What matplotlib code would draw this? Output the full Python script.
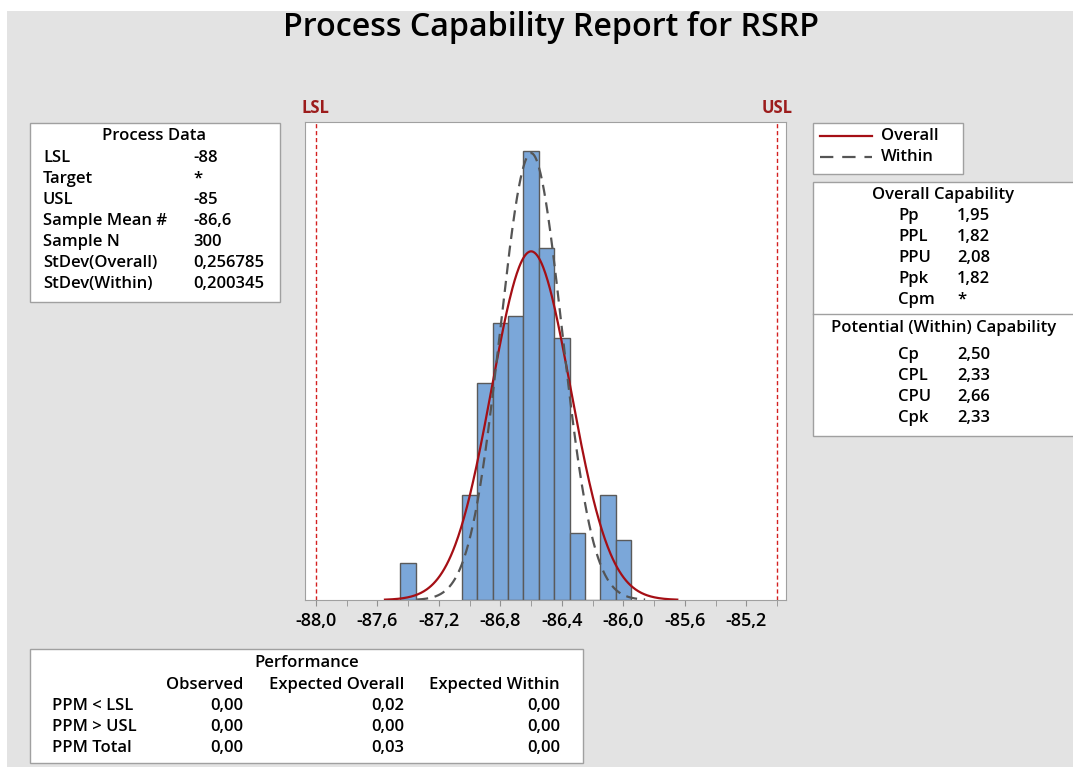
import matplotlib

matplotlib.use("Agg")
import matplotlib.pyplot as plt
import numpy as np
from matplotlib.lines import Line2D
from matplotlib.patches import Rectangle

plt.rcParams["font.family"] = ["Open Sans", "DejaVu Sans"]

W, H = 1073, 767

# histogram
bin_centers = [-87.4, -87.0, -86.9, -86.8, -86.7, -86.6, -86.5, -86.4, -86.3, -86.2, -86.1, -86.0]
bin_counts = [5, 14, 29, 37, 38, 60, 47, 35, 9, 0, 14, 8]
bin_width = 0.1

lsl, usl = -88.0, -85.0
sample_mean = -86.6
sample_n = 300
stdev_overall = 0.256785
stdev_within = 0.200345

process_labels = ["LSL", "Target", "USL", "Sample Mean #", "Sample N",
                  "StDev(Overall)", "StDev(Within)"]
process_values = ["-88", "*", "-85", "-86,6", "300", "0,256785", "0,200345"]
overall_labels = ["Pp", "PPL", "PPU", "Ppk", "Cpm"]
overall_values = ["1,95", "1,82", "2,08", "1,82", "*"]
within_labels = ["Cp", "CPL", "CPU", "Cpk"]
within_values = ["2,50", "2,33", "2,66", "2,33"]
perf_columns = ["Observed", "Expected Overall", "Expected Within"]
perf_rows = ["PPM < LSL", "PPM > USL", "PPM Total"]
perf_values = [["0,00", "0,02", "0,00"],
               ["0,00", "0,00", "0,00"],
               ["0,00", "0,03", "0,00"]]
major_ticks = [-88.0, -87.6, -87.2, -86.8, -86.4, -86.0, -85.6, -85.2]
minor_ticks = [-87.8, -87.4, -87.0, -86.6, -86.2, -85.8, -85.4, -85.0]

BG = "#e3e3e3"
BORDER = "#a0a0a0"
TXT = 12
WEIGHT = "semibold"


def fx(x):
    return x / W


def fy(y):
    return 1 - y / H


def text(x, y, s, **kw):
    kw.setdefault("fontsize", TXT)
    kw.setdefault("va", "center")
    kw.setdefault("color", "black")
    kw.setdefault("fontweight", WEIGHT)
    fig.text(fx(x), fy(y), s, **kw)


def box(x0, y0, x1, y1):
    fig.add_artist(Rectangle((fx(x0), fy(y1)), fx(x1) - fx(x0), fy(y0) - fy(y1),
                             transform=fig.transFigure, facecolor="white",
                             edgecolor=BORDER, linewidth=1.0, zorder=1))


fig = plt.figure(figsize=(W / 100, H / 100), dpi=100, facecolor="white")
fig.add_artist(Rectangle((fx(7), 0), 1, fy(11), transform=fig.transFigure,
                         facecolor=BG, edgecolor="none", zorder=0))

ax = fig.add_axes([fx(305), fy(600), fx(786) - fx(305), fy(122) - fy(600)])
ax.set_facecolor("white")
ax.bar(bin_centers, bin_counts, width=bin_width, color="#7ba7d9",
       edgecolor="#5a5a5a", linewidth=1.0, zorder=2)

scale = sample_n * bin_width
xs = np.linspace(sample_mean - 3.7 * stdev_overall, sample_mean + 3.7 * stdev_overall, 400)
ax.plot(xs, scale * np.exp(-0.5 * ((xs - sample_mean) / stdev_overall) ** 2)
        / (stdev_overall * np.sqrt(2 * np.pi)), color="#a50f15", lw=1.6, zorder=3)
xw = np.linspace(sample_mean - 3.7 * stdev_within, sample_mean + 3.7 * stdev_within, 400)
ax.plot(xw, scale * np.exp(-0.5 * ((xw - sample_mean) / stdev_within) ** 2)
        / (stdev_within * np.sqrt(2 * np.pi)), color="#555555", lw=1.6,
        ls=(0, (5, 3)), zorder=3)

for limit in (lsl, usl):
    ax.axvline(limit, color="#d42020", lw=1.0, ls=(0, (3, 2)), zorder=1)

ax.set_xlim(-88.07, -84.943)
ax.set_ylim(0, 63.9)
ax.set_yticks([])
ax.set_xticks(major_ticks, labels=[f"{v:.1f}".replace(".", ",") for v in major_ticks])
ax.set_xticks(minor_ticks, minor=True)
ax.tick_params(axis="x", which="both", length=4, color="#909090", labelsize=13, pad=5)
for lab in ax.get_xticklabels():
    lab.set_fontweight(WEIGHT)
for spine in ax.spines.values():
    spine.set_color(BORDER)

text(315.7, 108, "LSL", color="#9c1c1c", fontweight="bold", ha="center")
text(777.3, 108, "USL", color="#9c1c1c", fontweight="bold", ha="center")

text(551, 36, "Process Capability Report for RSRP", fontsize=23.2,
     ha="center", va="baseline")

# process data
box(30, 123, 280, 302)
text(154, 136, "Process Data", ha="center")
for i, (lab, val) in enumerate(zip(process_labels, process_values)):
    text(43, 158 + i * 21, lab)
    text(193, 158 + i * 21, val)

# legend
box(813, 123, 963, 174)
fig.add_artist(Line2D([fx(820), fx(872)], [fy(136), fy(136)], transform=fig.transFigure,
                      color="#a50f15", lw=1.6))
fig.add_artist(Line2D([fx(820), fx(872)], [fy(157), fy(157)], transform=fig.transFigure,
                      color="#555555", lw=1.6, ls=(0, (6, 4))))
text(881, 136, "Overall")
text(881, 157, "Within")

# capability
box(813, 182, 1080, 436)
fig.add_artist(Line2D([fx(813), 1], [fy(314), fy(314)], transform=fig.transFigure,
                      color=BORDER, lw=1.0))
text(943, 195, "Overall Capability", ha="center")
for i, (lab, val) in enumerate(zip(overall_labels, overall_values)):
    text(898, 216 + i * 21, lab)
    text(957, 216 + i * 21, val)
text(944, 328, "Potential (Within) Capability", ha="center")
for i, (lab, val) in enumerate(zip(within_labels, within_values)):
    text(898, 355 + i * 21, lab)
    text(957, 355 + i * 21, val)

# performance
box(30, 649, 583, 763)
text(306.5, 663, "Performance", ha="center")
col_right = [243, 404, 560]
for cx, col in zip(col_right, perf_columns):
    text(cx, 685, col, ha="right")
for r, (lab, vals) in enumerate(zip(perf_rows, perf_values)):
    text(52, 706 + r * 21, lab)
    for cx, val in zip(col_right, vals):
        text(cx, 706 + r * 21, val, ha="right")

fig.savefig("out.png", dpi=100, facecolor=fig.get_facecolor())
